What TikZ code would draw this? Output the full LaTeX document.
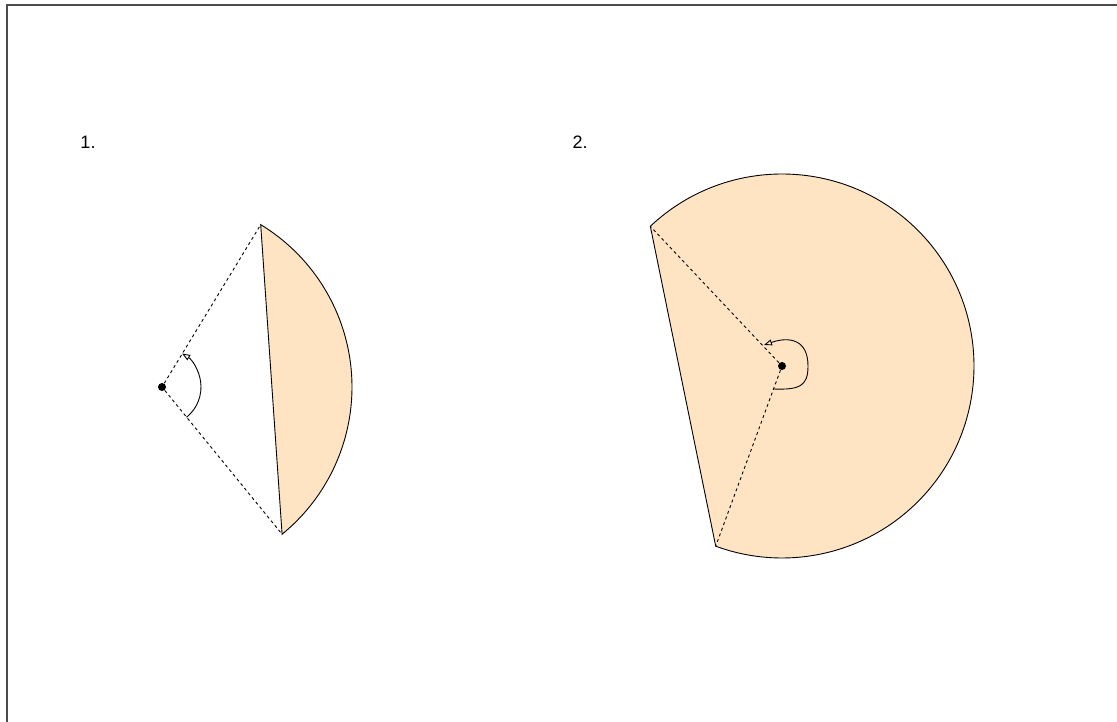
\documentclass[tikz,border=0pt]{standalone}
\usepackage{fontspec}
\setmainfont{Liberation Sans}
\usetikzlibrary{calc,arrows.meta}
\definecolor{melocoton}{RGB}{255,228,196}

\begin{document}
\begin{tikzpicture}[x=1pt,y=1pt,line width=0.9pt,
  punto/.style={fill=black,circle,inner sep=0pt,minimum size=8pt},
  radio/.style={dashed,dash pattern=on 3pt off 3pt},
  angulo/.style={-{Triangle[open,length=8pt,width=6pt]}},
  etiqueta/.style={font=\fontsize{18}{21}\selectfont}]
  \useasboundingbox (0,0) rectangle (1117,722);
  % marco
  \draw[line width=1.3pt,black!70] (7,0) -- (7,717) -- (1117,717);

  % figura 1
  \node[etiqueta] (n1) at (88,580) {1.};
  \coordinate (c1) at (162,335);
  \coordinate (a1) at ($(c1)+(58.7:190)$);
  \coordinate (b1) at ($(c1)+(-50.8:190)$);
  \draw[fill=melocoton] (a1) arc[start angle=58.7,end angle=-50.8,radius=190] -- cycle;
  \node[punto] (o1) at (c1) {};
  \draw[radio] (o1) -- (a1);
  \draw[radio] (o1) -- (b1);
  % angulo agudo
  \coordinate (s1) at ($(c1)+(-51:39)$);
  \draw[angulo] (s1) arc[start angle=-51,end angle=59,radius=39];

  % figura 2
  \node[etiqueta] (n2) at (580,580) {2.};
  \coordinate (c2) at (782,356);
  \coordinate (a2) at ($(c2)+(133.3:192)$);
  \coordinate (b2) at ($(c2)+(-110.2:192)$);
  \draw[fill=melocoton] (a2) arc[start angle=133.3,end angle=-110.2,radius=192] -- cycle;
  \node[punto] (o2) at (c2) {};
  \draw[radio] (o2) -- (a2);
  \draw[radio] (o2) -- (b2);
  % angulo reflejo
  \coordinate (s2) at ($(c2)+(-9,-23)$);
  \coordinate (e2) at ($(c2)+(-18,21)$);
  \draw[angulo] (s2) .. controls ($(c2)+(18,-24)$) and ($(c2)+(26,-20)$) .. ($(c2)+(26,0)$)
    .. controls ($(c2)+(26,26)$) and ($(c2)+(8,30)$) .. (e2);
\end{tikzpicture}
\end{document}
